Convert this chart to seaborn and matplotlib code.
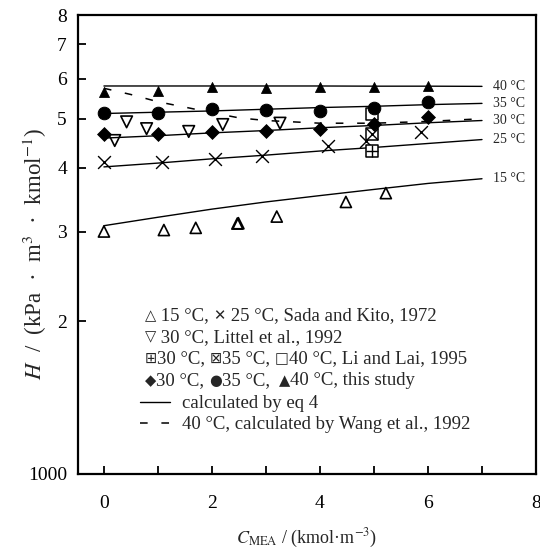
import matplotlib
matplotlib.use("Agg")
import matplotlib.pyplot as plt
from matplotlib.lines import Line2D
from matplotlib.offsetbox import TextArea, HPacker, AnchoredOffsetbox
import seaborn as sns

# ── Data (H in kPa·m3/kmol) ──────────────────────────────────────────────────
x_calc = [0, 1, 2, 3, 4, 5, 6, 7]
h15_calc = [3080, 3200, 3320, 3430, 3530, 3630, 3730, 3810]
h25_calc = [4020, 4090, 4170, 4240, 4320, 4390, 4470, 4550]
h30_calc = [4580, 4630, 4690, 4740, 4800, 4850, 4910, 4960]
h35_calc = [5120, 5150, 5180, 5220, 5260, 5290, 5330, 5360]
h40_calc = [5800, 5800, 5800, 5800, 5800, 5795, 5795, 5790]
calc_labels = ["15 °C", "25 °C", "30 °C", "35 °C", "40 °C"]

x_wang = [0, 0.5, 1, 1.5, 2, 2.5, 3, 3.5, 4, 5, 6, 7]
h40_wang = [5740, 5580, 5400, 5270, 5140, 5020, 4960, 4930, 4900, 4900, 4940, 5000]

x_study = [0, 1, 2, 3, 4, 5, 6]
h30_study = [4670, 4660, 4700, 4740, 4780, 4890, 5040]
h35_study = [5130, 5130, 5220, 5200, 5180, 5240, 5390]
h40_study = [5650, 5660, 5770, 5760, 5770, 5770, 5790]

x_sada15 = [0, 1.11, 1.70, 2.47, 2.49, 3.20, 4.48, 5.22]
h_sada15 = [3000, 3020, 3050, 3110, 3115, 3210, 3430, 3570]
x_sada25 = [0, 1.07, 2.06, 2.92, 4.14, 4.85, 5.88]
h_sada25 = [4110, 4110, 4170, 4220, 4410, 4530, 4710]

x_littel = [0.20, 0.42, 0.79, 1.57, 2.20, 3.26]
h_littel = [4530, 4930, 4780, 4720, 4870, 4900]

x_li = [4.96]
h_li30 = [4330]
h_li35 = [4670]
h_li40 = [5120]

# legend rows: (symbol, text) pieces
legend_rows = [
    [("△", " 15 °C, "), ("✕", " 25 °C, Sada and Kito, 1972")],
    [("▽", " 30 °C, Littel et al., 1992")],
    [("⊞", "30 °C, "), ("⊠", "35 °C, "), ("□", "40 °C, Li and Lai, 1995")],
    [("◆", "30 °C, "), ("●", "35 °C,  "), ("▲", "40 °C, this study")],
]

# ── Style ────────────────────────────────────────────────────────────────────
sns.set_theme(style="ticks")
plt.rcParams.update({
    "font.family": ["Liberation Serif", "DejaVu Sans"],
    "mathtext.fontset": "stix",
    "axes.linewidth": 1.6,
    "axes.edgecolor": "black",
    "xtick.color": "black",
    "ytick.color": "black",
})

fig = plt.figure(figsize=(5.4, 5.5), dpi=100, facecolor="white")
ax = fig.add_axes([78 / 540, 1 - 474 / 550, 458 / 540, 459 / 550])
ax.set_facecolor("white")

# calculated curves (eq 4)
for h, lab in zip([h15_calc, h25_calc, h30_calc, h35_calc, h40_calc], calc_labels):
    sns.lineplot(x=x_calc, y=h, color="black", lw=1.0, ax=ax)
    ax.text(7.2, h[-1], lab, va="center", ha="left", fontsize=10)

# Wang et al. 40 °C
sns.lineplot(x=x_wang, y=h40_wang, color="black", lw=1.1, ls=(0, (5, 9)), ax=ax)

# literature data
sns.scatterplot(x=x_sada15, y=h_sada15, marker="^", s=64, facecolor="none",
                edgecolor="black", linewidth=1.2, ax=ax, zorder=3)
sns.scatterplot(x=x_sada25, y=h_sada25, marker="x", s=85, color="black",
                linewidth=1.0, ax=ax, zorder=3)
sns.scatterplot(x=x_littel, y=h_littel, marker="v", s=70, facecolor="none",
                edgecolor="black", linewidth=1.2, ax=ax, zorder=3)
for h, inner in [(h_li30, "+"), (h_li35, "x"), (h_li40, None)]:
    sns.scatterplot(x=x_li, y=h, marker="s", s=70, facecolor="white",
                    edgecolor="black", linewidth=1.1, ax=ax, zorder=3)
    if inner:
        sns.scatterplot(x=x_li, y=h, marker=inner, s=70, color="black",
                        linewidth=1.0, ax=ax, zorder=3)

# this study
sns.scatterplot(x=x_study, y=h30_study, marker="D", s=50, color="black",
                edgecolor="black", ax=ax, zorder=4)
sns.scatterplot(x=x_study, y=h35_study, marker="o", s=82, color="black",
                edgecolor="black", ax=ax, zorder=4)
sns.scatterplot(x=x_study, y=h40_study, marker="^", s=52, color="black",
                edgecolor="black", ax=ax, zorder=4)

# ── Axes ─────────────────────────────────────────────────────────────────────
ax.set_yscale("log")
ax.set_xlim(-0.48, 8)
ax.set_ylim(1000, 8000)
ax.set_yticks([1000, 2000, 3000, 4000, 5000, 6000, 7000, 8000])
ax.set_yticklabels(["1000", "2", "3", "4", "5", "6", "7", "8"])
ax.yaxis.set_minor_locator(matplotlib.ticker.NullLocator())
ax.set_xticks([0, 2, 4, 6, 8])
ax.set_xticks([1, 3, 5, 7], minor=True)
ax.tick_params(which="both", direction="in", length=6, width=1.3, labelsize=14)
ax.tick_params(axis="x", pad=15)
ax.tick_params(axis="y", pad=8)

ax.set_ylabel(r"$H$  /  (kPa  ·  m$^3$  ·  kmol$^{-1}$)", fontsize=16.5)
ax.set_xlabel(r"$C_{\mathrm{MEA}}$ / (kmol·m$^{-3}$)", fontsize=13)
ax.yaxis.set_label_coords(-0.064, 0.48)
ax.xaxis.set_label_coords(0.5, -0.115)

# ── Legend ───────────────────────────────────────────────────────────────────
row_y = [0.346, 0.298, 0.251, 0.203]
for yy, pieces in zip(row_y, legend_rows):
    boxes = []
    for sym, txt in pieces:
        boxes.append(TextArea(sym, textprops=dict(fontsize=10.5, family="DejaVu Sans")))
        boxes.append(TextArea(txt, textprops=dict(fontsize=13.5)))
    row = HPacker(children=boxes, align="center", pad=0, sep=0)
    ax.add_artist(AnchoredOffsetbox(loc="center left", child=row, pad=0, borderpad=0,
                                    frameon=False, bbox_to_anchor=(0.146, yy),
                                    bbox_transform=ax.transAxes))

handles = [Line2D([], [], color="black", lw=1.0),
           Line2D([], [], color="black", lw=1.1, ls=(0, (5, 9)))]
ax.legend(handles, ["calculated by eq 4", "40 °C, calculated by Wang et al., 1992"],
          loc="upper left", bbox_to_anchor=((140 - 78) / 458, (474 - 395) / 459),
          frameon=False, fontsize=13.5, handlelength=1.6, handletextpad=0.65,
          borderpad=0, borderaxespad=0, labelspacing=0.22)

plt.savefig("out.png", dpi=100, facecolor="white")
plt.close()
